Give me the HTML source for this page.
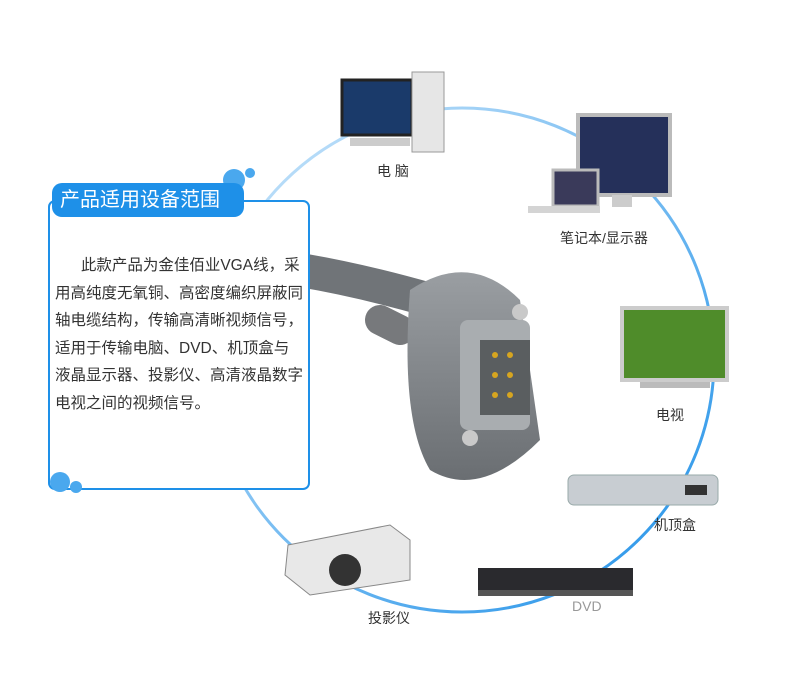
<!DOCTYPE html>
<html><head><meta charset="utf-8"><style>
body{margin:0;width:790px;height:686px;background:#fff;position:relative;overflow:hidden;font-family:"Liberation Sans","Noto Sans CJK SC",sans-serif}
.a{position:absolute}
.lbl{position:absolute;font-size:14px;color:#333}
</style></head><body>
<svg class="a" style="left:0;top:0" width="790" height="686">
<defs>
<linearGradient id="g" x1="0" y1="0" x2="1" y2="1"><stop offset="0" stop-color="#cfe8fb"/><stop offset="1" stop-color="#1e90e8"/></linearGradient>
<linearGradient id="c" x1="0" y1="0" x2="0" y2="1"><stop offset="0" stop-color="#9a9ea2"/><stop offset="1" stop-color="#6a6e72"/></linearGradient>
</defs>
<circle cx="462" cy="360" r="252" fill="none" stroke="url(#g)" stroke-width="3"/>
<path d="M300 270 Q360 280 430 300" stroke="#707478" stroke-width="34" fill="none" stroke-linecap="round"/>
<path d="M380 320 L400 330" stroke="#77797c" stroke-width="30" stroke-linecap="round"/>
<path d="M410 290 Q470 250 520 300 L540 440 Q480 500 430 470 Q400 420 410 290Z" fill="url(#c)"/>
<rect x="460" y="320" width="70" height="110" rx="8" fill="#a9adb0"/>
<rect x="480" y="340" width="50" height="75" fill="#5a5e60"/>
<g fill="#d6a520"><circle cx="495" cy="355" r="3"/><circle cx="510" cy="355" r="3"/><circle cx="495" cy="375" r="3"/><circle cx="510" cy="375" r="3"/><circle cx="495" cy="395" r="3"/><circle cx="510" cy="395" r="3"/></g>
<circle cx="520" cy="312" r="8" fill="#c9c9c9"/><circle cx="470" cy="438" r="8" fill="#c9c9c9"/>
<rect x="342" y="80" width="70" height="55" fill="#1a3a6a" stroke="#222" stroke-width="3"/>
<rect x="412" y="72" width="32" height="80" fill="#e6e6e6" stroke="#999"/>
<rect x="350" y="138" width="60" height="8" fill="#ccc"/>
<rect x="578" y="115" width="92" height="80" fill="#25305a" stroke="#bbb" stroke-width="4"/>
<rect x="612" y="195" width="20" height="12" fill="#ccc"/>
<rect x="553" y="170" width="45" height="36" fill="#3a3a5a" stroke="#bbb" stroke-width="3"/>
<rect x="528" y="206" width="72" height="7" fill="#d4d4d4"/>
<rect x="622" y="308" width="105" height="72" fill="#4f8c2a" stroke="#ccc" stroke-width="4"/>
<rect x="640" y="382" width="70" height="6" fill="#bbb"/>
<rect x="568" y="475" width="150" height="30" rx="6" fill="#c8cdd2" stroke="#9aa"/>
<rect x="685" y="485" width="22" height="10" fill="#333"/>
<rect x="478" y="568" width="155" height="22" fill="#2a2a2e"/>
<rect x="478" y="590" width="155" height="6" fill="#555"/>
<path d="M288 545 L390 525 L410 540 L410 580 L310 595 L285 575Z" fill="#e8e8e8" stroke="#888"/>
<circle cx="345" cy="570" r="16" fill="#333"/>
<circle cx="234" cy="180" r="11" fill="#4aa8ee"/><circle cx="250" cy="173" r="5" fill="#4aa8ee"/>
</svg>
<div class="a" style="left:48px;top:200px;width:258px;height:286px;border:2px solid #1e90e8;border-radius:7px;background:#fff"></div>
<svg class="a" style="left:40px;top:465px" width="50" height="35"><circle cx="20" cy="17" r="10" fill="#4aa8ee"/><circle cx="36" cy="22" r="6" fill="#4aa8ee"/></svg>
<div class="a" style="left:52px;top:183px;width:192px;height:34px;background:#1e90e8;border-radius:10px;color:#fff;font-size:20px;line-height:34px;text-indent:8px">产品适用设备范围</div>
<div class="a" style="left:55px;top:252px;font-size:15.5px;line-height:27.5px;color:#333;white-space:nowrap">&nbsp;&nbsp;&nbsp;&nbsp;&nbsp;&nbsp;此款产品为金佳佰业VGA线，采<br>用高纯度无氧铜、高密度编织屏蔽同<br>轴电缆结构，传输高清晰视频信号，<br>适用于传输电脑、DVD、机顶盒与<br>液晶显示器、投影仪、高清液晶数字<br>电视之间的视频信号。</div>
<div class="lbl" style="left:377px;top:161px">电 脑</div>
<div class="lbl" style="left:560px;top:228px">笔记本/显示器</div>
<div class="lbl" style="left:656px;top:405px">电视</div>
<div class="lbl" style="left:654px;top:515px">机顶盒</div>
<div class="lbl" style="left:572px;top:598px;color:#999">DVD</div>
<div class="lbl" style="left:368px;top:608px">投影仪</div>
</body></html>
